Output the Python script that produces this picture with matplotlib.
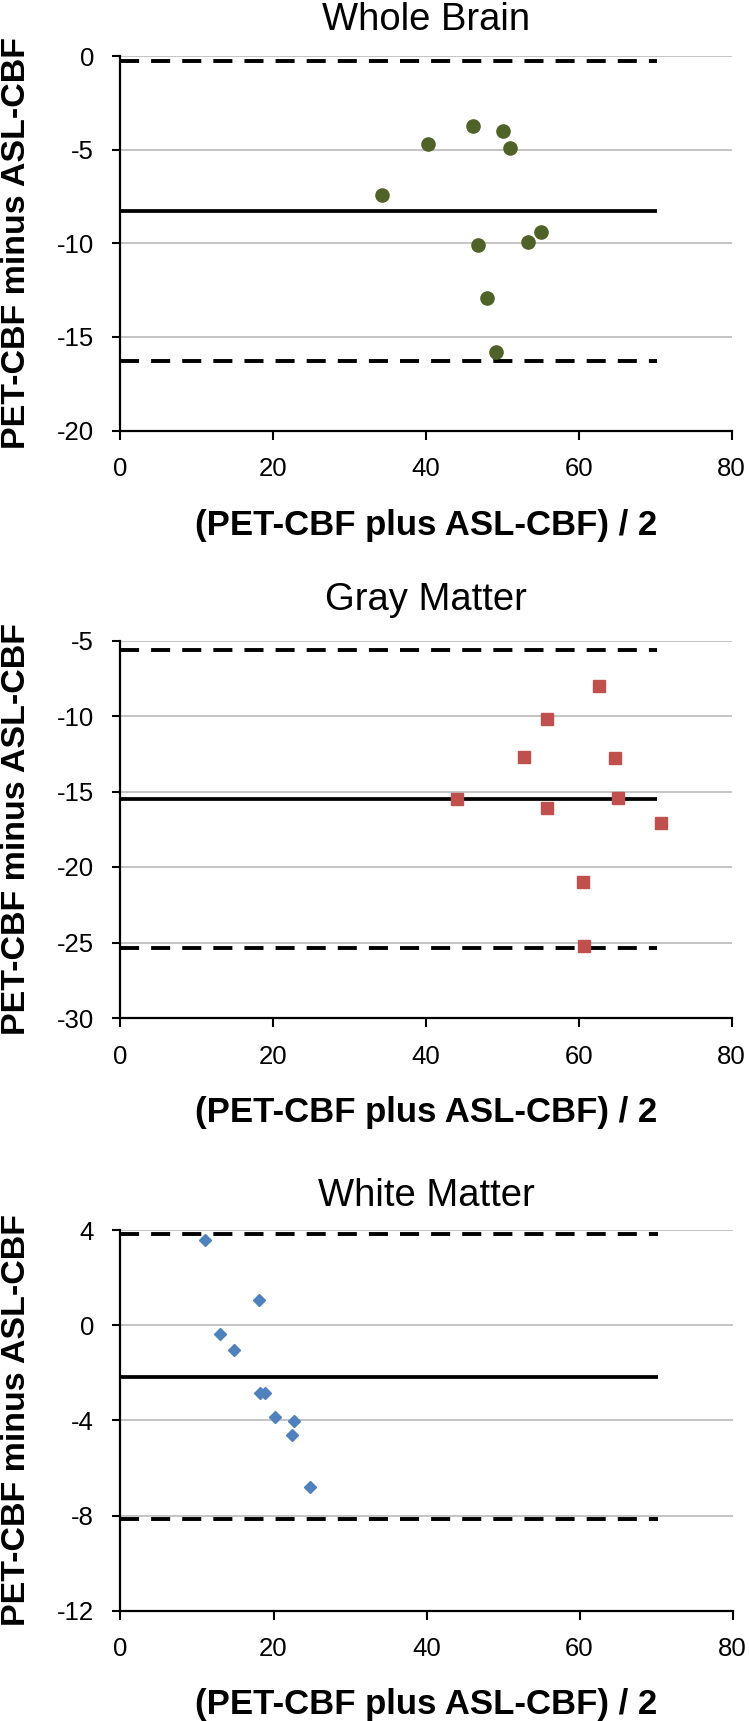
import matplotlib
matplotlib.use("Agg")
import matplotlib.pyplot as plt
import numpy as np

plt.rcParams['font.family'] = ['Liberation Sans', 'DejaVu Sans']
plt.rcParams['axes.unicode_minus'] = False

# ---------------- data ----------------
titles = ["Whole Brain", "Gray Matter", "White Matter"]

wb_x = [34.2, 40.3, 46.1, 50.1, 51.0, 46.8, 53.3, 55.1, 48.0, 49.2]
wb_y = [-7.4, -4.7, -3.7, -4.0, -4.9, -10.1, -9.9, -9.4, -12.9, -15.8]
wb_mean, wb_hi, wb_lo = -8.27, -0.27, -16.27

gm_x = [62.7, 55.9, 52.8, 64.7, 44.0, 65.2, 55.9, 70.8, 60.5, 60.7]
gm_y = [-8.0, -10.2, -12.7, -12.8, -15.5, -15.4, -16.1, -17.1, -21.0, -25.2]
gm_mean, gm_hi, gm_lo = -15.5, -5.64, -25.37

wm_x = [11.1, 18.1, 13.0, 14.8, 18.3, 18.9, 20.2, 22.7, 22.4, 24.8]
wm_y = [3.6, 1.06, -0.39, -1.06, -2.84, -2.84, -3.85, -4.02, -4.61, -6.79]
wm_mean, wm_hi, wm_lo = -2.18, 3.85, -8.13

line_x = [0, 70.3]

x_ticks = [0, 20, 40, 60, 80]
wb_yticks = [-20, -15, -10, -5, 0]
gm_yticks = [-30, -25, -20, -15, -10, -5]
wm_yticks = [-12, -8, -4, 0, 4]

xlabel = "(PET-CBF plus ASL-CBF) / 2"
ylabel = "PET-CBF minus ASL-CBF"

# ---------------- figure ----------------
W, H = 749, 1721
fig = plt.figure(figsize=(W / 100, H / 100), dpi=100)

# axes boxes in pixels from top: (left, right, top, bottom)
boxes = [(120.5, 731.5, 56.3, 430.5),
         (120.5, 731.5, 640.5, 1018.0),
         (120.5, 732.5, 1230.0, 1610.7)]
title_pads_px = [26, 31, 24]
xlabel_gap_px = [78, 78, 77]

panels = [
    (wb_x, wb_y, wb_mean, wb_hi, wb_lo, wb_yticks, 'o', 9.5, '#4F6228'),
    (gm_x, gm_y, gm_mean, gm_hi, gm_lo, gm_yticks, 's', 8.3, '#C0504D'),
    (wm_x, wm_y, wm_mean, wm_hi, wm_lo, wm_yticks, 'D', 6.3, '#4F81BD'),
]

for i, (px, py, m, hi, lo, yt, mk, ms, col) in enumerate(panels):
    l, r, t, b = boxes[i]
    ax = fig.add_axes([l / W, (H - b) / H, (r - l) / W, (b - t) / H])
    ax.set_xlim(0, 80)
    ax.set_ylim(yt[0], yt[-1])
    ax.set_xticks(x_ticks)
    ax.set_yticks(yt)
    ax.yaxis.grid(True, color='#c4c4c4', linewidth=1.4)
    ax.set_axisbelow(True)
    for s in ['top', 'right']:
        ax.spines[s].set_visible(False)
    for s in ['left', 'bottom']:
        ax.spines[s].set_linewidth(1.6)
        ax.spines[s].set_color('black')
    ax.tick_params(axis='x', direction='out', length=6.8, width=1.5,
                   labelsize=18.5, pad=12.4)
    ax.tick_params(axis='y', direction='out', length=6.0, width=1.5,
                   labelsize=18.5, pad=13.0)

    ax.plot(line_x, [m, m], color='black', lw=2.7, solid_capstyle='butt', zorder=3)
    for v in (hi, lo):
        ax.plot(line_x, [v, v], color='black', lw=2.8,
                linestyle=(0, (4.9, 3.1)), dash_capstyle='butt', zorder=3)
    ax.plot(px, py, linestyle='none', marker=mk, markersize=ms,
            markerfacecolor=col, markeredgecolor=col, zorder=4, clip_on=False)

    ax.set_title(titles[i], fontsize=27.5, pad=title_pads_px[i] * 0.72)
    ax.set_xlabel(xlabel, fontsize=25, fontweight='bold')
    ax.xaxis.set_label_coords(0.5, -xlabel_gap_px[i] / (b - t))
    ax.set_ylabel(ylabel, fontsize=24.5, fontweight='bold')
    ax.yaxis.set_label_coords(-(l - 32) / (r - l), 0.5)

fig.savefig("out.png", dpi=100)
